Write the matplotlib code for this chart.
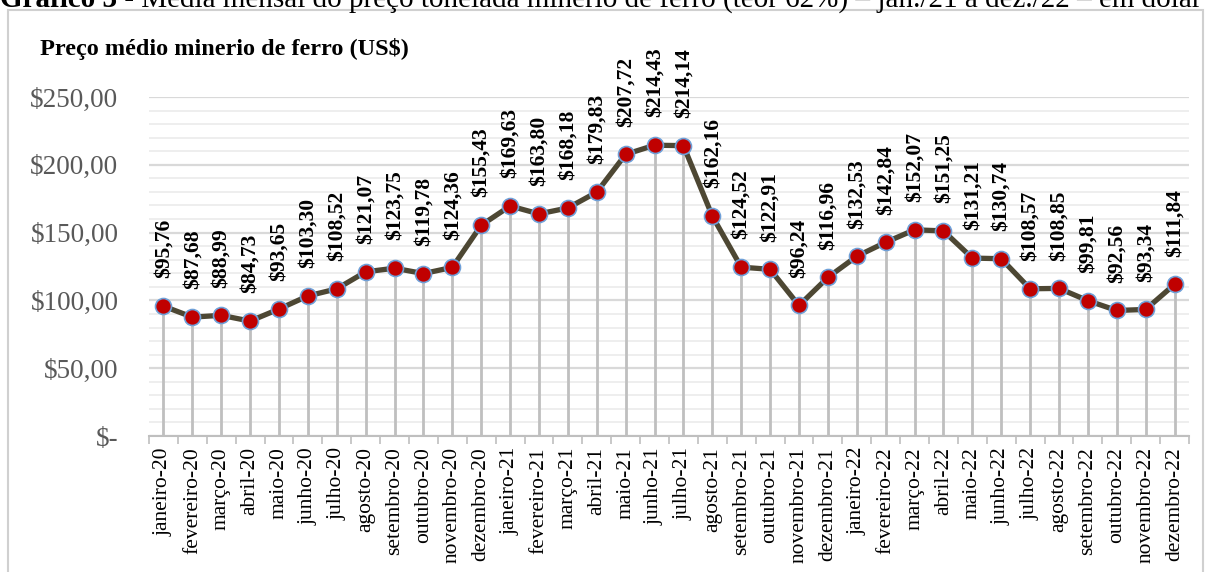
import matplotlib
matplotlib.use("Agg")
import matplotlib.pyplot as plt
from matplotlib.patches import Rectangle
from matplotlib.ticker import MultipleLocator, FuncFormatter

plt.rcParams['font.family'] = ['Liberation Serif', 'DejaVu Serif']

months = ['janeiro', 'fevereiro', 'março', 'abril', 'maio', 'junho', 'julho',
          'agosto', 'setembro', 'outubro', 'novembro', 'dezembro']
years = ['20', '21', '22']
labels = [m + '-' + y for y in years for m in months]

prices = [95.76, 87.68, 88.99, 84.73, 93.65, 103.30, 108.52, 121.07, 123.75, 119.78, 124.36, 155.43,
          169.63, 163.80, 168.18, 179.83, 207.72, 214.43, 214.14, 162.16, 124.52, 122.91, 96.24, 116.96,
          132.53, 142.84, 152.07, 151.25, 131.21, 130.74, 108.57, 108.85, 99.81, 92.56, 93.34, 111.84]

W, H = 1205, 572
fig = plt.figure(figsize=(W / 100, H / 100), dpi=100)

# moldura do gráfico
fig.patches.append(Rectangle((8 / W, -0.05), (1203 - 8) / W, (H - 10) / H + 0.05,
                             transform=fig.transFigure, fill=False,
                             edgecolor='#d0d0d0', linewidth=1.5))

# legenda de cima (cortada)
t1 = fig.text(0.0, (H - 7) / H, 'Gráfico 3', fontsize=21, fontweight='bold', va='baseline')
fig.canvas.draw()
bb = t1.get_window_extent()
fig.text(bb.x1 / W, (H - 7) / H,
         ' - Média mensal do preço tonelada minério de ferro (teor 62%) – jan./21 a dez./22 – em dólar',
         fontsize=21, va='baseline')

ax = fig.add_axes([149 / W, (H - 436) / H, (1189 - 149) / W, (436 - 97) / H])
x = list(range(len(prices)))

ax.vlines(x, 0, prices, color='#bfbfbf', linewidth=2, zorder=1)
ax.plot(x, prices, color='#4d4733', linewidth=3.8, marker='o', markersize=11.5,
        markerfacecolor='#c00000', markeredgecolor='#6fa0d8', markeredgewidth=1.2, zorder=3)

for xi, v in zip(x, prices):
    txt = '$' + f'{v:.2f}'.replace('.', ',')
    ax.annotate(txt, (xi, v), xytext=(0, 20), textcoords='offset points',
                rotation=90, ha='center', va='bottom', fontsize=15.5, fontweight='bold',
                annotation_clip=False)

ax.set_xlim(-0.5, len(prices) - 0.5)
ax.set_ylim(0, 250)
ax.yaxis.set_major_locator(MultipleLocator(50))
ax.yaxis.set_minor_locator(MultipleLocator(10))
ax.yaxis.set_major_formatter(FuncFormatter(
    lambda v, p: '$-' if v == 0 else '$' + f'{v:.2f}'.replace('.', ',')))
ax.grid(axis='y', which='major', color='#d9d9d9', linewidth=1.6, zorder=0)
ax.grid(axis='y', which='minor', color='#ebebeb', linewidth=1.2, zorder=0)
ax.set_axisbelow(True)

ax.set_xticks(x)
ax.set_xticklabels(labels, rotation=90, fontsize=15.5)
ax.set_xticks([i + 0.5 for i in range(-1, len(prices))], minor=True)
ax.tick_params(axis='x', which='major', length=0, pad=8)
ax.tick_params(axis='x', which='minor', length=6, color='#bfbfbf', width=1.2)
ax.tick_params(axis='y', which='both', length=0, pad=22, labelsize=19.5, labelcolor='#595959')

for s in ['top', 'right', 'left']:
    ax.spines[s].set_visible(False)
ax.spines['bottom'].set_color('#bfbfbf')
ax.spines['bottom'].set_linewidth(1.5)

fig.text(40 / W, (H - 49) / H, 'Preço médio minerio de ferro (US$)', fontsize=17.5,
         fontweight='bold', va='center', ha='left')

fig.savefig('out.png', dpi=100)
